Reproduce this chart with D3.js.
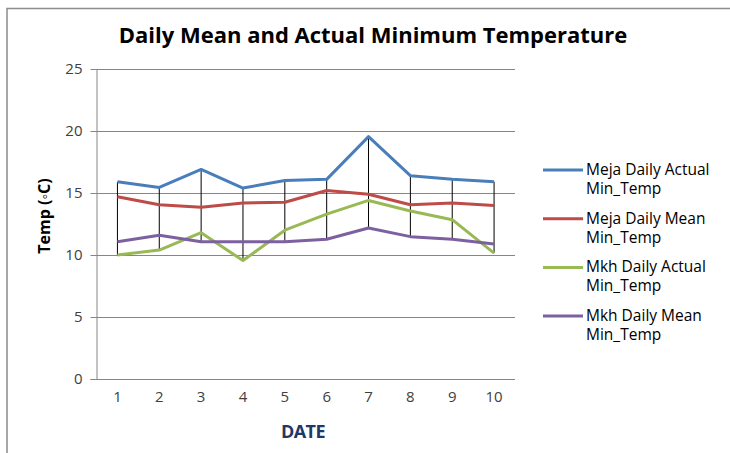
<!DOCTYPE html>
<html>
<head>
<meta charset="utf-8">
<script src="https://cdn.jsdelivr.net/npm/d3@7"></script>
<style>
  body { margin: 0; background: #fff; }
  svg { display: block; font-family: "Open Sans", sans-serif; }
</style>
</head>
<body>
<svg id="chart"></svg>
<script>
// data
const dates = [1, 2, 3, 4, 5, 6, 7, 8, 9, 10];
const mejaActual = [15.9, 15.45, 16.9, 15.4, 16.0, 16.1, 19.55, 16.4, 16.1, 15.9];
const mejaMean = [14.7, 14.05, 13.85, 14.2, 14.25, 15.2, 14.9, 14.05, 14.2, 14.0];
const mkhActual = [10.0, 10.4, 11.8, 9.55, 12.0, 13.3, 14.4, 13.55, 12.85, 10.15];
const mkhMean = [11.07, 11.6, 11.07, 11.07, 11.07, 11.27, 12.18, 11.48, 11.27, 10.89];
const yTicks = [0, 5, 10, 15, 20, 25];

const seriesNames = [
  ["Meja Daily Actual", "Min_Temp"],
  ["Meja Daily Mean", "Min_Temp"],
  ["Mkh Daily Actual", "Min_Temp"],
  ["Mkh Daily Mean", "Min_Temp"]
];
const seriesValues = [mejaActual, mejaMean, mkhActual, mkhMean];
const colors = ["#4a7ebb", "#be4b48", "#98b954", "#7d60a0"];

let width = 730,
    height = 453,
    plotLeft = 96.5,
    plotRight = 515,
    plotTop = 69,
    plotBottom = 379;

let svg = d3.select("#chart")
    .attr("width", width)
    .attr("height", height);

// chart frame (only top and left edges show in the picture)
svg.append("path")
    .attr("d", "M7,453 V8.5 H730")
    .attr("fill", "none")
    .attr("stroke", "#8c8c8c")
    .attr("stroke-width", 1.5);

let x = d3.scaleBand()
    .domain(dates)
    .range([plotLeft, plotRight]);

let y = d3.scaleLinear()
    .domain([0, 25])
    .range([plotBottom, plotTop]);

function cx(d) { return x(d) + x.bandwidth() / 2; }

// gridlines + y axis
let yAxis = d3.axisLeft(y)
    .tickValues(yTicks)
    .tickSize(-(plotRight - plotLeft))
    .tickPadding(14)
    .tickSizeOuter(0);

let gy = svg.append("g")
    .attr("transform", "translate(" + plotLeft + ",0)")
    .call(yAxis);
gy.select(".domain").attr("stroke", "#868686");
gy.selectAll(".tick line")
    .attr("stroke", "#868686")
    .attr("x1", -6);
gy.selectAll(".tick text")
    .attr("fill", "#404040")
    .attr("font-size", 15)
    .attr("font-family", "Open Sans, sans-serif");

// x axis
let xAxis = d3.axisBottom(x)
    .tickSize(0)
    .tickPadding(12)
    .tickSizeOuter(0);

let gx = svg.append("g")
    .attr("transform", "translate(0," + plotBottom + ")")
    .call(xAxis);
gx.select(".domain")
    .attr("stroke", "#868686")
    .attr("d", "M" + (plotLeft - 6) + ",0.5H" + plotRight);
gx.selectAll(".tick text")
    .attr("fill", "#404040")
    .attr("font-size", 15)
    .attr("font-family", "Open Sans, sans-serif");

// high-low lines
svg.append("g")
    .selectAll("line")
    .data(dates)
    .enter()
    .append("line")
    .attr("x1", (d, i) => cx(d))
    .attr("x2", (d, i) => cx(d))
    .attr("y1", (d, i) => y(d3.max(seriesValues, s => s[i])))
    .attr("y2", (d, i) => y(d3.min(seriesValues, s => s[i])))
    .attr("stroke", "#000")
    .attr("stroke-width", 1);

let line = d3.line()
    .x((d, i) => cx(dates[i]))
    .y(d => y(d));

svg.append("g")
    .selectAll("path")
    .data(seriesValues)
    .enter()
    .append("path")
    .attr("d", d => line(d))
    .attr("fill", "none")
    .attr("stroke", (d, i) => colors[i])
    .attr("stroke-width", 3)
    .attr("stroke-linejoin", "round");

// title
svg.append("text")
    .attr("x", 373)
    .attr("y", 43)
    .attr("text-anchor", "middle")
    .attr("font-size", 22)
    .attr("font-weight", "bold")
    .attr("fill", "#000")
    .text("Daily Mean and Actual Minimum Temperature");

// axis titles
svg.append("text")
    .attr("transform", "translate(50,216) rotate(-90)")
    .attr("text-anchor", "middle")
    .attr("font-size", 16)
    .attr("font-weight", "bold")
    .text("Temp (\u25e6C)");

svg.append("text")
    .attr("x", 303)
    .attr("y", 438)
    .attr("text-anchor", "middle")
    .attr("font-size", 18)
    .attr("font-weight", "bold")
    .attr("fill", "#1f3864")
    .attr("letter-spacing", -0.5)
    .text("DATE");

// legend
let legend = svg.append("g")
    .selectAll("g")
    .data(seriesNames)
    .enter()
    .append("g")
    .attr("transform", (d, i) => "translate(543," + (170 + i * 48.7) + ")");

legend.append("line")
    .attr("x1", 0)
    .attr("x2", 40)
    .attr("stroke", (d, i) => colors[i])
    .attr("stroke-width", 3);

legend.append("text")
    .attr("x", 43)
    .attr("y", 5)
    .attr("font-size", 15.5)
    .attr("fill", "#000")
    .selectAll("tspan")
    .data(d => d)
    .enter()
    .append("tspan")
    .attr("x", 43)
    .attr("dy", (d, i) => i === 0 ? 0 : 19)
    .text(d => d);
</script>
</body>
</html>
